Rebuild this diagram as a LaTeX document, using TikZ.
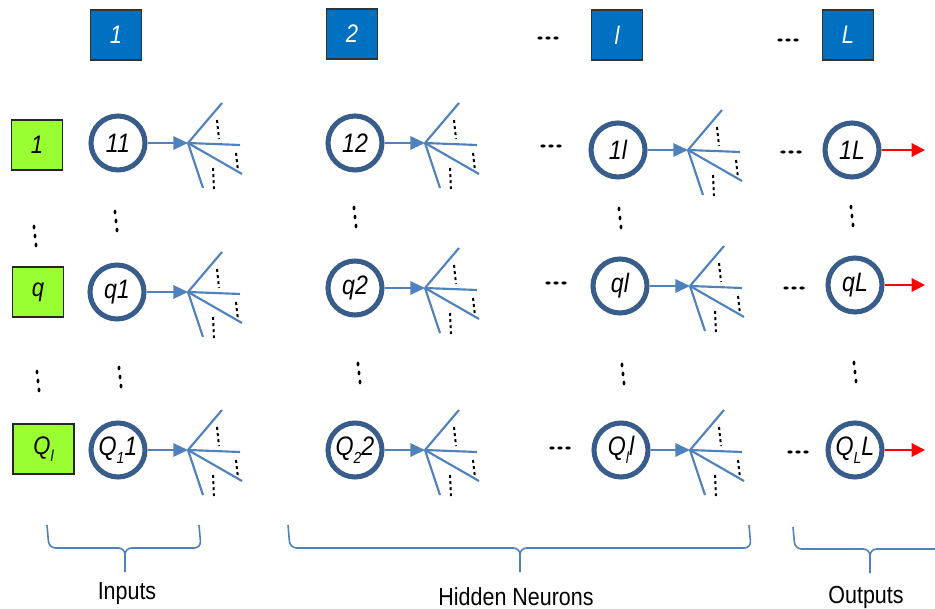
\documentclass[tikz,border=0pt]{standalone}
\usepackage{fontspec}
\usetikzlibrary{arrows.meta}
\newfontfamily\labfont{Liberation Sans}[FakeStretch=0.87]
\definecolor{cblue}{HTML}{4F81BD}
\definecolor{cring}{HTML}{385D8A}
\definecolor{boxblue}{HTML}{0070C0}
\definecolor{boxgreen}{HTML}{99FF33}
\newcommand\lsub[1]{\raisebox{-0.28em}{\fontsize{12}{12}\selectfont #1}}
\tikzset{
  circ/.style={circle, draw=cring, line width=3.8pt, fill=white, minimum size=40.5pt, inner sep=0pt,
    font=\labfont\itshape\fontsize{20}{20}\selectfont},
  layerbox/.style={draw=black!80, line width=0.9pt, fill=boxblue, text=white, minimum width=38.25pt, minimum height=37.5pt,
    inner sep=0pt, font=\labfont\itshape\fontsize{19}{19}\selectfont},
  inbox/.style={draw=black!85, line width=0.9pt, fill=boxgreen, text=black, minimum width=38.25pt, minimum height=37.5pt,
    inner sep=0pt, font=\labfont\itshape\fontsize{19}{19}\selectfont},
  caption/.style={font=\labfont\fontsize{18.5}{18.5}\selectfont, inner sep=0pt},
  tofan/.style={draw=cblue, line width=1.6pt, -{Triangle[length=11pt,width=10pt]}},
  outarrow/.style={draw=red, line width=1.5pt, -{Triangle[length=10pt,width=10pt]}},
  fanline/.style={draw=cblue, line width=1.6pt},
  fandot/.style={draw=black, line width=1.5pt, dash pattern=on 2.2pt off 2.4pt},
  brc/.style={draw=cblue, line width=1.2pt, rounded corners=5pt},
  fanpic/.pic={
    \draw[fanline] (0,0) -- (34,-40);
    \draw[fanline] (0,0) -- (52,2);
    \draw[fanline] (0,0) -- (54,31);
    \draw[fanline] (0,0) -- (15,45);
    \draw[fandot] (29,-23) -- (31,-4);
    \draw[fandot] (48,10) -- (50,28);
    \draw[fandot] (25,25) -- (26,46);
  },
  vdotspic/.pic={
    \fill[black] (-1,-9) ellipse (1.1pt and 1.8pt);
    \fill[black] (0,0) ellipse (1.1pt and 1.8pt);
    \fill[black] (1,9) ellipse (1.1pt and 1.8pt);
  },
  hdotspic/.pic={
    \fill[black] (-8,0) ellipse (2pt and 1.2pt);
    \fill[black] (0,0) ellipse (2pt and 1.2pt);
    \fill[black] (8,0) ellipse (2pt and 1.2pt);
  }
}
\begin{document}
\begin{tikzpicture}[x=0.75pt,y=-0.75pt]
\useasboundingbox (0,0) rectangle (935,609);
\clip (0,0) rectangle (935,609);

% layer boxes
\node[layerbox] (L1) at (116,35) {1};
\node[layerbox] (L2) at (352,34) {2};
\node[layerbox] (Ll) at (617,35) {l};
\node[layerbox] (LL) at (848,35) {L};
\pic at (548,38) {hdotspic};
\pic at (788,40) {hdotspic};

% input boxes
\node[inbox] (I1) at (37,145) {1};
\node[inbox] (Iq) at (38,292) {q};
\node[inbox, minimum width=45.75pt] (IQ) at (43.5,449) {Q\lsub{l}};
\pic at (35,236) {vdotspic};
\pic at (38,381) {vdotspic};

% neurons
\node[circ] (c11) at (118,143) {11};
\node[circ] (c12) at (355,143) {12};
\node[circ] (c1l) at (618,150) {1l};
\node[circ] (c1L) at (852,150) {1L};
\node[circ] (cq1) at (117,292) {q1};
\node[circ] (cq2) at (355,288) {q2};
\node[circ] (cql) at (620,286) {ql};
\node[circ] (cqL) at (855,285) {qL};
\node[circ] (cQ1) at (118,450) {Q\lsub{1}1};
\node[circ] (cQ2) at (355,450) {Q\lsub{2}2};
\node[circ] (cQl) at (621,450) {Q\lsub{l}l};
\node[circ] (cQL) at (855,450) {Q\lsub{L}L};

% fan centres
\coordinate (f11) at (188,143);
\coordinate (f12) at (425,143);
\coordinate (f1l) at (688,150);
\coordinate (fq1) at (188,292);
\coordinate (fq2) at (425,288);
\coordinate (fql) at (690,286);
\coordinate (fQ1) at (188,450);
\coordinate (fQ2) at (425,450);
\coordinate (fQl) at (690,450);
\foreach \n in {11,12,1l,q1,q2,ql,Q1,Q2,Ql}{
  \draw[tofan] (c\n) -- (f\n);
  \pic at (f\n) {fanpic};
}

% outputs
\coordinate (o1) at (925,150);
\coordinate (oq) at (925,285);
\coordinate (oQ) at (925,450);
\draw[outarrow] (c1L) -- (o1);
\draw[outarrow] (cqL) -- (oq);
\draw[outarrow] (cQL) -- (oQ);

% dots between
\pic at (116,221) {vdotspic};
\pic at (120,377) {vdotspic};
\pic at (355,217) {vdotspic};
\pic at (359,373) {vdotspic};
\pic at (620,218) {vdotspic};
\pic at (623,374) {vdotspic};
\pic at (852,216) {vdotspic};
\pic at (855,372) {vdotspic};
\pic at (551,146) {hdotspic};
\pic at (791,152) {hdotspic};
\pic at (556,283) {hdotspic};
\pic at (794,288) {hdotspic};
\pic at (560,448) {hdotspic};
\pic at (798,452) {hdotspic};

% braces
\draw[brc] (47,525) -- (49,548) -- (125,548) -- (125,572);
\draw[brc] (125,572) -- (125,548) -- (201,548) -- (199,525);
\draw[brc] (288,525) -- (290,548) -- (520,548) -- (520,572);
\draw[brc] (520,572) -- (520,548) -- (751,548) -- (749,525);
\draw[brc] (793,527) -- (795,549) -- (870,549) -- (870,573);
\draw[brc] (870,573) -- (870,549) -- (947,549) -- (945,527);

\node[caption] (tin) at (127,594) {Inputs};
\node[caption] (thid) at (516,597) {Hidden Neurons};
\node[caption] (tout) at (866,597) {Outputs};
\end{tikzpicture}
\end{document}
